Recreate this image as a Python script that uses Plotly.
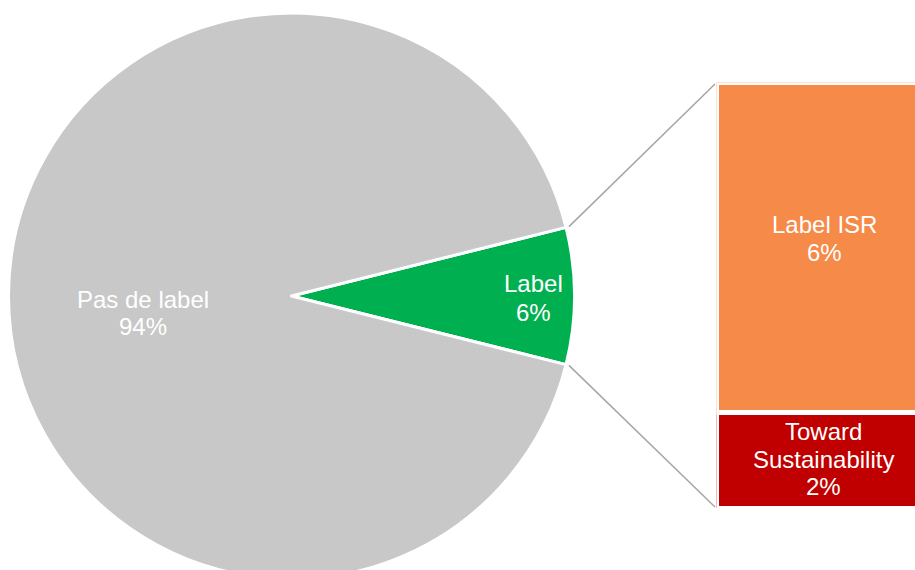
import math
import plotly.graph_objects as go

# ---- data ----
pie_labels = ["Label", "Pas de label"]
pie_values = [7.8, 92.2]
pie_texts = ["Label<br>6%", "Pas de label<br>94%"]
pie_colors = ["#00B050", "#C8C8C8"]

bar_labels = ["Toward Sustainability", "Label ISR"]
bar_values = [1.75, 6.05]
bar_texts = ["Toward<br>Sustainability<br>2%", "Label ISR<br>6%"]
bar_colors = ["#C00000", "#F68A48"]

# ---- geometry helpers (pixel -> paper) ----
W, H = 915, 600
def px(x):
    return x / W
def py(y):
    return (H - y) / H

pie_cx, pie_cy, pie_r = 291.5, 296.0, 283.0
bar_left, bar_top, bar_bottom = 716.5, 82.5, 508.5
line_w_bar = 5

fig = go.Figure()

half_angle = 180.0 * pie_values[0] / sum(pie_values)
fig.add_trace(go.Pie(
    labels=pie_labels, values=pie_values, sort=False, direction="clockwise",
    rotation=90 - half_angle,
    marker=dict(colors=pie_colors, line=dict(color="white", width=3)),
    textinfo="none", hoverinfo="label+percent", showlegend=False,
    domain=dict(x=[px(pie_cx - pie_r), px(pie_cx + pie_r)],
                y=[py(pie_cy + pie_r), py(pie_cy - pie_r)]),
))

for lab, val, col in zip(bar_labels, bar_values, bar_colors):
    fig.add_trace(go.Bar(
        x=["Label"], y=[val], name=lab, width=1,
        marker=dict(color=col, line=dict(color="white", width=line_w_bar)),
        hoverinfo="name+y", showlegend=False,
    ))

# connector lines from the pie slice edges to the bar corners
a = math.radians(half_angle)
rs = pie_r + 3
sx = pie_cx + rs * math.cos(a)
ex = bar_left + line_w_bar / 2 - 4
for sgn, ey in [(-1, bar_top + line_w_bar / 2 - 1), (1, bar_bottom - line_w_bar / 2 + 1)]:
    sy = pie_cy + sgn * rs * math.sin(a)
    fig.add_shape(type="line", xref="paper", yref="paper",
                  x0=px(sx), y0=py(sy), x1=px(ex), y1=py(ey),
                  line=dict(color="#A6A6A6", width=1.5))

# text labels (one annotation per line, baseline positions)
font = dict(family="Liberation Sans, Arial, sans-serif", size=24, color="white")
label_pos = {
    "Pas de label<br>94%": (142.5, 308, 27),
    "Label<br>6%": (533.5, 292, 29),
    "Label ISR<br>6%": (824, 232.7, 28.3),
    "Toward<br>Sustainability<br>2%": (823, 440, 27.5),
}
for txt in pie_texts + bar_texts:
    cx, base, step = label_pos[txt]
    for i, line in enumerate(txt.split("<br>")):
        yb = base + i * step
        fig.add_annotation(text=line, xref="paper", yref="paper",
                           x=px(cx), y=py(yb - 8.5), xanchor="center", yanchor="middle",
                           showarrow=False, font=font)

fig.update_layout(
    width=W, height=H, margin=dict(l=0, r=0, t=0, b=0),
    paper_bgcolor="white", plot_bgcolor="rgba(0,0,0,0)",
    barmode="stack", bargap=0,
    xaxis=dict(domain=[px(bar_left), 1.0], range=[-0.5, 0.45], visible=False, fixedrange=True),
    yaxis=dict(domain=[py(bar_bottom), py(bar_top)], range=[0, sum(bar_values)],
               visible=False, fixedrange=True),
)

fig.write_html("out.html", config={"displayModeBar": False},
               post_script="document.documentElement.style.overflow='hidden';document.body.style.overflow='hidden';")
